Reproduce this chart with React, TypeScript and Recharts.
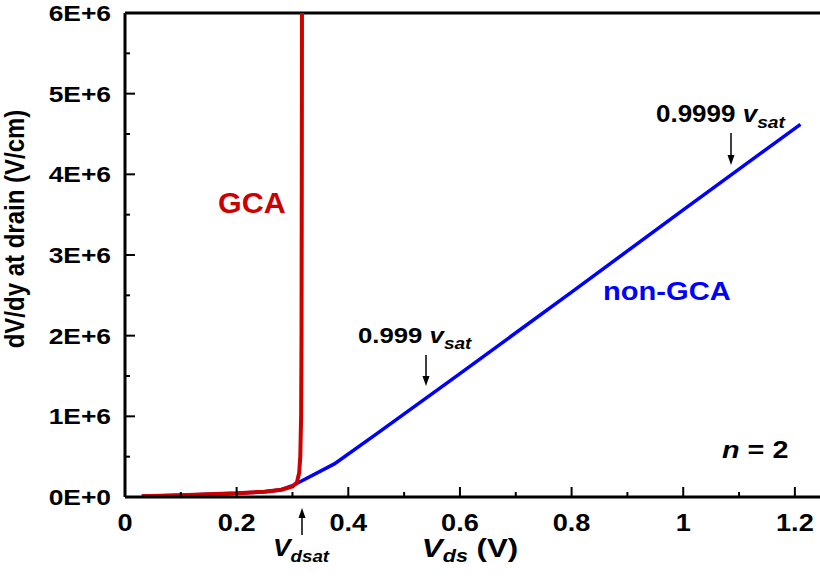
import { Line, LineChart, ReferenceLine, XAxis, YAxis } from "recharts";

// GCA (red) and non-GCA (blue) dV/dy at drain vs Vds
const GCA_VDS = [0.03, 0.1, 0.2, 0.25, 0.28, 0.3, 0.308, 0.312, 0.314, 0.3155, 0.3162, 0.3167, 0.317];
const GCA_FIELD = [1e4, 2.2e4, 4.5e4, 6.5e4, 9e4, 1.3e5, 1.8e5, 3e5, 5e5, 1e6, 2e6, 4e6, 6e6];

const NONGCA_VDS = [0.03, 0.1, 0.2, 0.25, 0.28, 0.3, 0.375, 0.45, 0.6, 0.8, 1.0, 1.21];
const NONGCA_FIELD = [1e4, 2.2e4, 4.5e4, 6.5e4, 9e4, 1.4e5, 4.1e5, 7.8e5, 1.53e6, 2.54e6, 3.56e6, 4.62e6];

const X_TICKS = [0, 0.1, 0.2, 0.3, 0.4, 0.5, 0.6, 0.7, 0.8, 0.9, 1.0, 1.1, 1.2];
const X_TICK_LABELS = ["0", "", "0.2", "", "0.4", "", "0.6", "", "0.8", "", "1", "", "1.2"];
const Y_TICKS = [0, 5e5, 1e6, 1.5e6, 2e6, 2.5e6, 3e6, 3.5e6, 4e6, 4.5e6, 5e6, 5.5e6, 6e6];
const Y_TICK_LABELS = ["0E+0", "", "1E+6", "", "2E+6", "", "3E+6", "", "4E+6", "", "5E+6", "", "6E+6"];

const FONT = '"Liberation Sans", Arial, sans-serif';
const RED = "#cc0000";
const BLUE = "#0000ff";

const gcaData = GCA_VDS.map((v, i) => ({ vds: v, field: GCA_FIELD[i] }));
const nonGcaData = NONGCA_VDS.map((v, i) => ({ vds: v, field: NONGCA_FIELD[i] }));

function XTick(props: any) {
  const { x, y, index } = props;
  const label = X_TICK_LABELS[index] ?? "";
  const major = label !== "";
  return (
    <g>
      <line x1={x} x2={x} y1={y} y2={y - (major ? 10 : 5)} stroke="#000" strokeWidth={2} />
      {major && (
        <text
          transform={`translate(${x},${y + 34}) scale(1.18,1)`}
          textAnchor="middle"
          fontFamily={FONT}
          fontWeight="bold"
          fontSize={23}
          fill="#000"
        >
          {label}
        </text>
      )}
    </g>
  );
}

function YTick(props: any) {
  const { x, y, index } = props;
  const label = Y_TICK_LABELS[index] ?? "";
  const major = label !== "";
  return (
    <g>
      <line x1={x} x2={x + (major ? 10 : 5)} y1={y} y2={y} stroke="#000" strokeWidth={2} />
      {major && (
        <text
          transform={`translate(${x - 14},${y + 8}) scale(1.2,1)`}
          textAnchor="end"
          fontFamily={FONT}
          fontWeight="bold"
          fontSize={22}
          fill="#000"
        >
          {label}
        </text>
      )}
    </g>
  );
}

function Arrow({ x, y1, y2 }: { x: number; y1: number; y2: number }) {
  const dir = y2 > y1 ? 1 : -1;
  return (
    <g>
      <line x1={x} x2={x} y1={y1} y2={y2 - dir * 8} stroke="#000" strokeWidth={1.5} />
      <polygon points={`${x - 3.5},${y2 - dir * 10} ${x + 3.5},${y2 - dir * 10} ${x},${y2}`} fill="#000" />
    </g>
  );
}

function Annotations() {
  const t = { fontFamily: FONT, fontWeight: "bold" as const, fill: "#000" };
  return (
    <svg width={820} height={582} style={{ position: "absolute", left: 0, top: 0, pointerEvents: "none" }}>
      <text transform="translate(24,229) scale(1.15,1) rotate(-90)" textAnchor="middle" fontSize={24} {...t}>
        dV/dy at drain (V/cm)
      </text>
      <text transform="translate(218,213) scale(1.05,1)" fontSize={29} fontFamily={FONT} fontWeight="bold" fill={RED}>
        GCA
      </text>
      <text transform="translate(603,300) scale(1.12,1)" fontSize={26} fontFamily={FONT} fontWeight="bold" fill={BLUE}>
        non-GCA
      </text>
      <text transform="translate(358,343) scale(1.12,1)" fontSize={23} {...t}>
        0.999 <tspan fontStyle="italic">v</tspan>
        <tspan fontStyle="italic" fontSize={17} dy={6}>sat</tspan>
      </text>
      <Arrow x={426} y1={355} y2={386} />
      <text transform="translate(656,122) scale(1.13,1)" fontSize={23} {...t}>
        0.9999 <tspan fontStyle="italic">v</tspan>
        <tspan fontStyle="italic" fontSize={17} dy={6}>sat</tspan>
      </text>
      <Arrow x={731} y1={133} y2={165} />
      <text transform="translate(722,458) scale(1.2,1)" fontSize={24} {...t}>
        <tspan fontStyle="italic">n</tspan> = 2
      </text>
      <Arrow x={302} y1={535} y2={508} />
      <text transform="translate(273,556) scale(1.1,1)" fontSize={24} {...t}>
        <tspan fontStyle="italic">V</tspan>
        <tspan fontStyle="italic" fontSize={17} dy={6}>dsat</tspan>
      </text>
      <text transform="translate(470,557) scale(1.2,1)" textAnchor="middle" fontSize={26} {...t}>
        <tspan fontStyle="italic">V</tspan>
        <tspan fontStyle="italic" fontSize={18} dy={5}>ds</tspan>
        <tspan dy={-5}> (V)</tspan>
      </text>
    </svg>
  );
}

export default function App() {
  return (
    <div style={{ position: "absolute", left: 0, top: 0, width: 820, height: 582, background: "#fff" }}>
      <LineChart width={820} height={582} margin={{ top: 13, right: 0, left: 0, bottom: 45 }}>
        <XAxis
          dataKey="vds"
          type="number"
          domain={[0, 1.245]}
          ticks={X_TICKS}
          allowDataOverflow
          height={40}
          tickSize={0}
          tickMargin={0}
          tickLine={false}
          tick={<XTick />}
          axisLine={{ stroke: "#000", strokeWidth: 3 }}
        />
        <YAxis
          dataKey="field"
          type="number"
          domain={[0, 6e6]}
          ticks={Y_TICKS}
          allowDataOverflow
          width={125}
          tickSize={0}
          tickMargin={0}
          tickLine={false}
          tick={<YTick />}
          axisLine={{ stroke: "#000", strokeWidth: 3 }}
        />
        <ReferenceLine y={6e6} stroke="#000" strokeWidth={3} />
        <Line
          data={nonGcaData}
          dataKey="field"
          type="linear"
          stroke={BLUE}
          strokeWidth={3.5}
          dot={false}
          isAnimationActive={false}
        />
        <Line
          data={gcaData}
          dataKey="field"
          type="linear"
          stroke={RED}
          strokeWidth={4}
          dot={false}
          isAnimationActive={false}
        />
      </LineChart>
      <Annotations />
    </div>
  );
}
